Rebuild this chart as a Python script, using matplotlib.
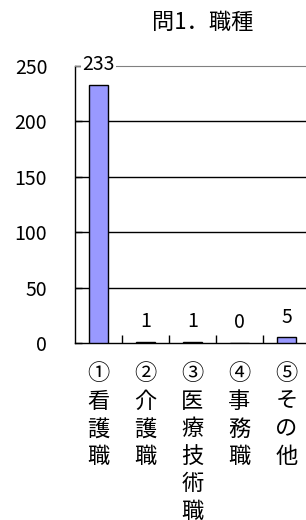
import matplotlib
matplotlib.use("Agg")
import matplotlib.pyplot as plt
import numpy as np

plt.rcParams['font.family'] = ['Noto Sans CJK JP', 'DejaVu Sans']

# data
title = "問1．職種"
categories = ["①看護職", "②介護職", "③医療技術職", "④事務職", "⑤その他"]
counts = [233, 1, 1, 0, 5]
yticks = [0, 50, 100, 150, 200, 250]

fig = plt.figure(figsize=(3.06, 5.2), dpi=100)
ax = fig.add_axes([75/306, 1-343/520, 235/306, 277/520])

x = np.arange(len(categories))
bars = ax.bar(x, counts, width=0.39, color='#9999ff', edgecolor='black', linewidth=1, zorder=3)

ax.set_xlim(-0.5, len(categories) - 0.5)
ax.set_ylim(0, 250)
ax.set_yticks(yticks)
ax.set_yticklabels([str(v) for v in yticks], fontsize=14)
ax.tick_params(axis='y', direction='in', length=5, width=1, pad=20, colors='black')

# vertical category labels, one character per line
ax.set_xticks(x)
ax.set_xticklabels(["\n".join(c) for c in categories], fontsize=16, va='top', linespacing=1.25)
ax.tick_params(axis='x', which='major', length=0, pad=14)
ax.set_xticks(np.arange(len(categories) - 1) + 0.5, minor=True)
ax.tick_params(axis='x', which='minor', direction='in', length=6, width=1)

for v in yticks[1:-1]:
    ax.axhline(v, color='black', linewidth=1, zorder=1)

ax.spines['right'].set_visible(False)
ax.spines['top'].set_color('#808080')
ax.spines['left'].set_linewidth(1)
ax.spines['bottom'].set_linewidth(1)

for xi, v in zip(x, counts):
    ax.annotate(str(v), (xi, v), xytext=(0, 7), textcoords='offset points',
                ha='center', va='bottom', fontsize=14, zorder=5,
                bbox=dict(facecolor='white', edgecolor='none', pad=1))

fig.text(203/306, 1-22/520, title, ha='center', va='center', fontsize=16)

fig.savefig("out.png", dpi=100)
